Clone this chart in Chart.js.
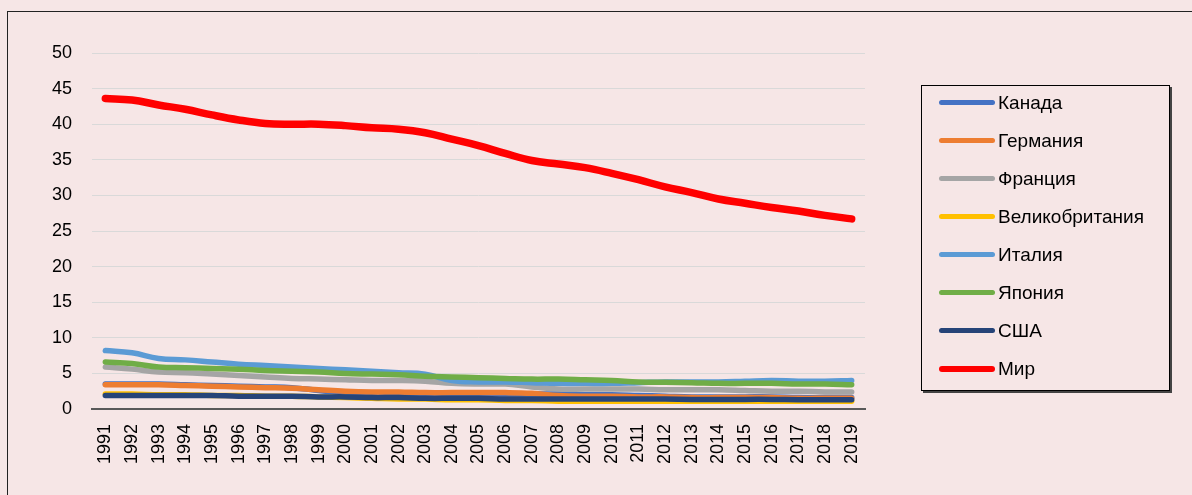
<!DOCTYPE html>
<html>
<head>
<meta charset="utf-8">
<script src="https://cdn.jsdelivr.net/npm/chart.js@4/dist/chart.umd.min.js"></script>
<style>
html,body{margin:0;padding:0;background:#F6E6E6;width:1192px;height:495px;overflow:hidden;font-family:"Liberation Sans",Arial,sans-serif;}
#wrap{position:relative;width:1192px;height:495px;}
#frame{position:absolute;left:7px;top:11px;width:1210px;height:510px;border:1.3px solid #222;box-sizing:border-box;}
canvas{position:absolute;left:0;top:0;}
#legend{position:absolute;left:921px;top:85px;width:249px;height:306px;border:1.5px solid #000;box-sizing:border-box;box-shadow:2px 2px 0 #444;}
.item{position:absolute;left:0;height:24px;line-height:24px;font-size:19px;color:#000;white-space:nowrap;}
.swatch{position:absolute;left:17px;top:9.5px;width:56px;height:5px;border-radius:3px;}
.lbl{position:absolute;left:76px;top:0;}
</style>
</head>
<body>
<div id="wrap">
<div id="frame"></div>
<canvas id="c" width="1192" height="495"></canvas>
<div id="legend"></div>
</div>
<script>
const years = ["1991","1992","1993","1994","1995","1996","1997","1998","1999","2000","2001","2002","2003","2004","2005","2006","2007","2008","2009","2010","2011","2012","2013","2014","2015","2016","2017","2018","2019"];
const yTicks = [0,5,10,15,20,25,30,35,40,45,50];

const canada  = [3.5,3.5,3.5,3.4,3.3,3.2,3.1,3.0,2.6,2.2,2.1,2.1,2.1,2.1,2.1,2.1,2.1,2.1,2.0,2.0,1.9,1.8,1.7,1.7,1.7,1.7,1.6,1.6,1.6];
const germany = [3.4,3.4,3.4,3.3,3.2,3.1,3.0,2.9,2.7,2.5,2.4,2.4,2.3,2.3,2.3,2.3,2.2,1.9,1.8,1.8,1.7,1.7,1.6,1.6,1.6,1.6,1.5,1.5,1.5];
const france  = [5.9,5.6,5.2,5.1,4.9,4.7,4.5,4.3,4.2,4.1,4.0,4.0,3.9,3.6,3.5,3.5,3.1,2.8,2.8,2.8,2.8,2.7,2.7,2.7,2.6,2.5,2.5,2.4,2.4];
const uk      = [2.1,2.1,2.0,2.0,1.9,1.9,1.8,1.8,1.7,1.6,1.5,1.4,1.4,1.3,1.3,1.2,1.2,1.1,1.1,1.1,1.1,1.1,1.1,1.1,1.1,1.1,1.1,1.1,1.1];
const italy   = [8.2,7.9,7.1,6.9,6.6,6.3,6.1,5.9,5.7,5.5,5.3,5.1,4.9,4.0,3.8,3.8,3.7,3.6,3.6,3.6,3.7,3.8,3.8,3.8,3.9,4.0,3.9,3.9,4.0];
const japan   = [6.6,6.4,5.9,5.8,5.7,5.6,5.4,5.3,5.2,5.0,4.9,4.8,4.6,4.5,4.4,4.3,4.2,4.2,4.1,4.0,3.8,3.75,3.7,3.6,3.6,3.6,3.5,3.5,3.4];
const usa     = [1.9,1.9,1.9,1.9,1.9,1.8,1.8,1.8,1.7,1.7,1.6,1.6,1.5,1.5,1.5,1.4,1.4,1.4,1.4,1.4,1.4,1.4,1.35,1.35,1.35,1.35,1.3,1.3,1.3];
const world   = [43.6,43.4,42.7,42.1,41.3,40.6,40.1,40.0,40.0,39.8,39.5,39.3,38.8,37.9,37.0,35.9,34.9,34.4,33.9,33.1,32.2,31.2,30.4,29.5,28.9,28.3,27.8,27.2,26.7];

const seriesNames  = ["Канада","Германия","Франция","Великобритания","Италия","Япония","США","Мир"];
const seriesValues = [canada, germany, france, uk, italy, japan, usa, world];
const seriesColors = ["#4472C4","#ED7D31","#A5A5A5","#FFC000","#5B9BD5","#70AD47","#264478","#FF0000"];

const n = seriesNames.length;
const datasets = seriesNames.map((name, i) => ({
  label: name,
  data: seriesValues[i],
  borderColor: seriesColors[i],
  backgroundColor: seriesColors[i],
  borderWidth: i === n - 1 ? 7.5 : 5.5,
  pointRadius: 0,
  tension: 0.4,
  borderCapStyle: 'round',
  borderJoinStyle: 'round',
  fill: false,
  order: n - 1 - i
}));

const FONT = "'Liberation Sans', Arial, sans-serif";

const chart = new Chart(document.getElementById('c'), {
  type: 'line',
  data: { labels: years, datasets },
  options: {
    responsive: false,
    devicePixelRatio: 1,
    animation: false,
    layout: { padding: { left: 20, right: 327, top: 53, bottom: 0 } },
    plugins: { legend: { display: false }, tooltip: { enabled: false } },
    scales: {
      x: {
        offset: true,
        grid: { display: false, drawTicks: false },
        border: { display: true, color: '#595959', width: 2 },
        ticks: { maxRotation: 90, minRotation: 90, autoSkip: false, padding: 15, color: '#000', font: { family: FONT, size: 18 } },
        afterFit: s => { s.height = 86; }
      },
      y: {
        min: 0, max: 50,
        afterBuildTicks: s => { s.ticks = yTicks.map(v => ({ value: v })); },
        grid: { color: '#D9D9D9', lineWidth: 1, drawTicks: false },
        border: { display: false },
        ticks: { padding: 20, color: '#000', font: { family: FONT, size: 18 } },
        afterFit: s => { s.width = 72; }
      }
    }
  }
});

// HTML legend built from the chart's datasets
const legend = document.getElementById('legend');
chart.data.datasets.forEach((ds, i) => {
  const item = document.createElement('div');
  item.className = 'item';
  item.style.top = (18 + i * 38 - 12 - 1.5) + 'px';
  const sw = document.createElement('div');
  sw.className = 'swatch';
  sw.style.background = ds.borderColor;
  if (i === n - 1) { sw.style.height = '6px'; sw.style.top = '9px'; }
  const lb = document.createElement('span');
  lb.className = 'lbl';
  lb.textContent = ds.label;
  item.appendChild(sw);
  item.appendChild(lb);
  legend.appendChild(item);
});
</script>
</body>
</html>
